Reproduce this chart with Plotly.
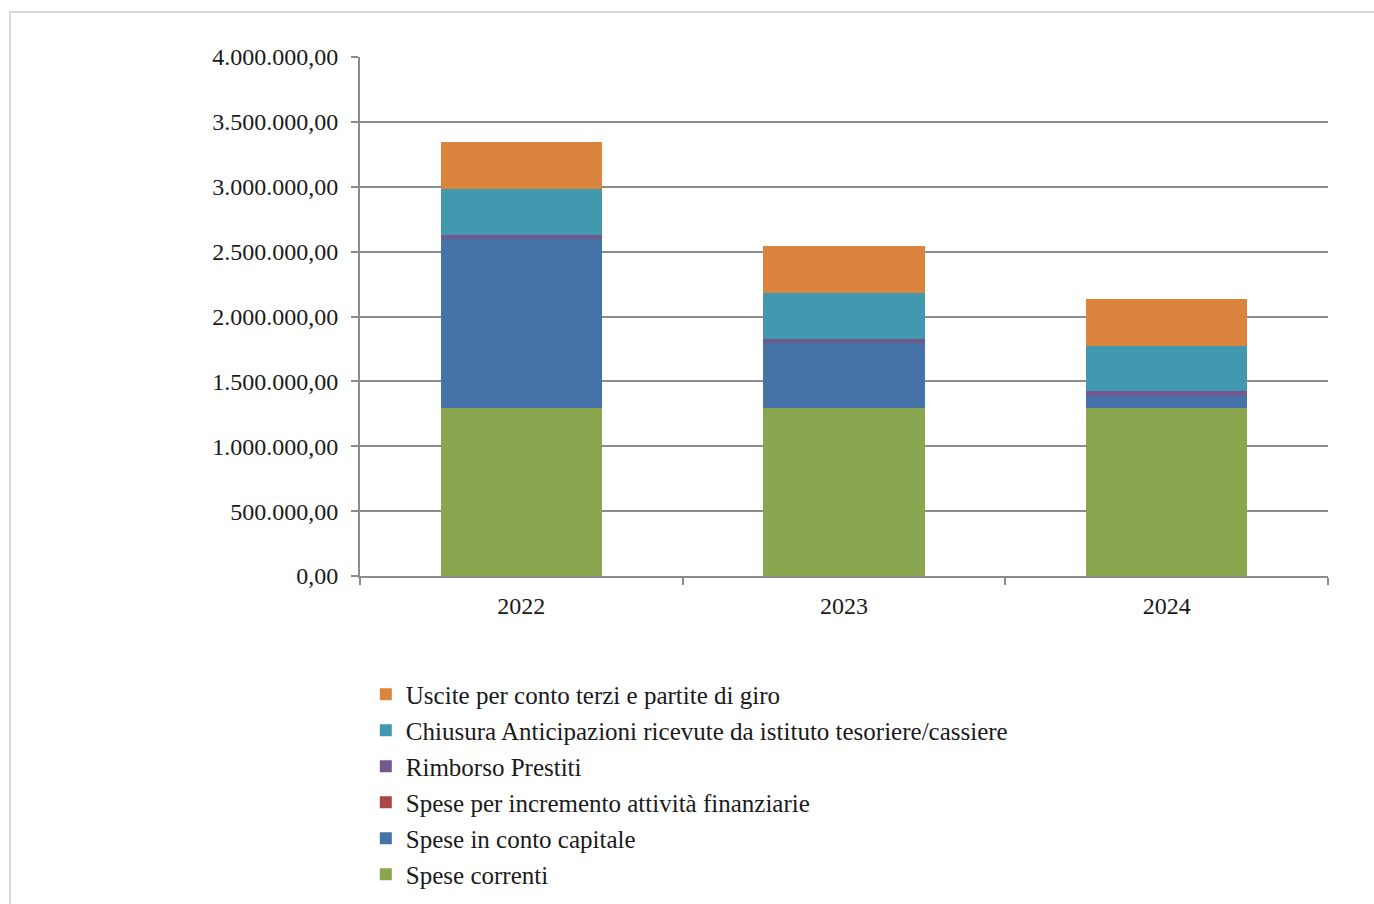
import plotly.graph_objects as go

# Years on the category axis
anni = ["2022", "2023", "2024"]

# Stacked spending components (euro), bottom to top
spese_correnti = [1297000, 1293000, 1295000]
spese_conto_capitale = [1298000, 500000, 90000]
spese_incremento_att_fin = [0, 0, 0]
rimborso_prestiti = [35000, 36000, 38000]
chiusura_anticipazioni = [350000, 350000, 350000]
uscite_conto_terzi = [365000, 365000, 362000]

serie = [
    ("Spese correnti", spese_correnti, "#89A54E"),
    ("Spese in conto capitale", spese_conto_capitale, "#4572A7"),
    ("Spese per incremento attività finanziarie", spese_incremento_att_fin, "#AA4643"),
    ("Rimborso Prestiti", rimborso_prestiti, "#71588F"),
    ("Chiusura Anticipazioni ricevute da istituto tesoriere/cassiere", chiusura_anticipazioni, "#4198AF"),
    ("Uscite per conto terzi e partite di giro", uscite_conto_terzi, "#DB843D"),
]

fig = go.Figure()
n = len(serie)
for i, (nome, valori, colore) in enumerate(serie):
    fig.add_trace(go.Bar(
        x=anni, y=valori, name=nome, legendgroup=str(i), legendrank=n - i,
        marker=dict(color=colore, line=dict(width=0)),
    ))

FONT = "Liberation Serif"
GRID = "#8c8c8c"
TXT = "#1a1a1a"

fig.update_layout(
    width=1374, height=904,
    margin=dict(l=360, r=46, t=57, b=328, autoexpand=False),
    barmode="stack", bargap=0.5,
    separators=",.",
    paper_bgcolor="white", plot_bgcolor="white",
    font=dict(family=FONT, size=25, color=TXT),
    showlegend=True,
    legend=dict(
        x=0.006, y=-0.184, xanchor="left", yanchor="top",
        traceorder="grouped", tracegroupgap=0.5,
        font=dict(family=FONT, size=25, color=TXT),
        bgcolor="rgba(0,0,0,0)",
    ),
    xaxis=dict(
        type="category", showline=True, linecolor=GRID, linewidth=2,
        ticks="outside", tickson="boundaries", ticklen=7, tickcolor=GRID, tickwidth=2,
        showgrid=False, tickfont=dict(family=FONT, size=24, color=TXT),
        ticklabelstandoff=7,
    ),
    yaxis=dict(
        range=[0, 4000000], dtick=500000, tickformat=",.2f",
        showline=True, linecolor=GRID, linewidth=2,
        ticks="outside", ticklen=7, tickcolor=GRID, tickwidth=2,
        showgrid=True, gridcolor=GRID, gridwidth=2, zeroline=False,
        tickfont=dict(family=FONT, size=24, color=TXT),
        ticklabelstandoff=8,
    ),
    shapes=[dict(
        type="rect", xref="paper", yref="paper",
        x0=(10 - 360) / 968, x1=(1390 - 360) / 968,
        y0=(576 - 920) / 519, y1=(576 - 12) / 519,
        line=dict(color="#d9d9d9", width=2), fillcolor="rgba(0,0,0,0)", layer="below",
    )],
)

fig.write_html("out.html")
